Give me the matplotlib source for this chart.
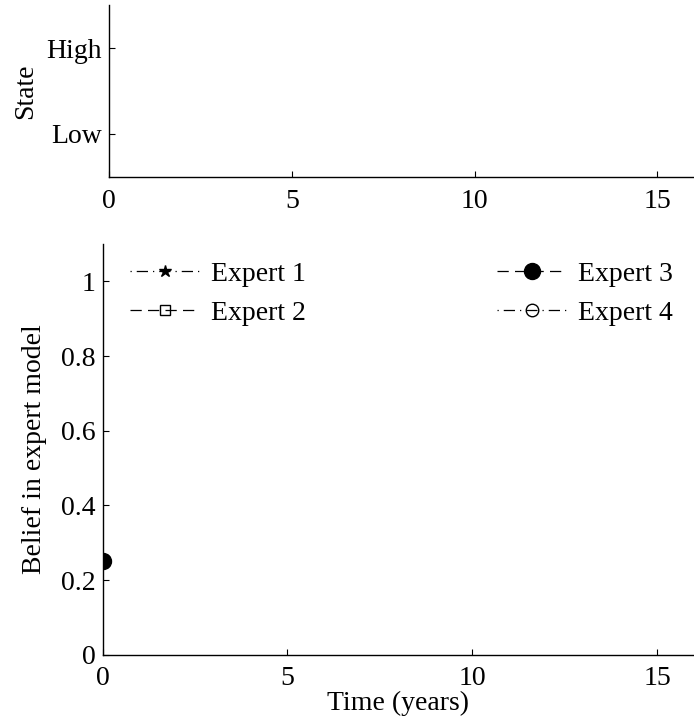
import numpy as np
import matplotlib
matplotlib.use("Agg")
import matplotlib.pyplot as plt

plt.rcParams['font.family'] = ['Liberation Serif', 'DejaVu Serif']
plt.rcParams['font.size'] = 20
plt.rcParams['xtick.direction'] = 'in'
plt.rcParams['ytick.direction'] = 'in'
plt.rcParams['xtick.major.size'] = 4.5
plt.rcParams['ytick.major.size'] = 4.5

# data (only the starting beliefs are visible)
experts = ["Expert 1", "Expert 2", "Expert 3", "Expert 4"]
time = [0.0]
belief1 = [0.25]
belief2 = [0.25]
belief3 = [0.25]
belief4 = [0.25]
state_ticks = [0, 1]
state_labels = ["Low", "High"]
time_ticks = [0, 5, 10, 15]
belief_ticks = [0, 0.2, 0.4, 0.6, 0.8, 1]

dashdot = (0, (1, 4, 9, 4))
dashed = (0, (9, 5))

fig = plt.figure(figsize=(6.94, 7.22), dpi=100)

# top panel: state
ax1 = fig.add_axes([0.157, 0.755, 0.843, 0.238])
ax1.set_xlim(0, 16)
ax1.set_ylim(-0.5, 1.5)
ax1.set_yticks(state_ticks)
ax1.set_yticklabels(state_labels)
ax1.set_xticks(time_ticks)
ax1.set_ylabel("State", labelpad=6)
ax1.spines['top'].set_visible(False)
ax1.spines['right'].set_visible(False)
ax1.tick_params(axis='y', pad=5)
ax1.tick_params(axis='x', pad=9)

# bottom panel: beliefs
ax2 = fig.add_axes([0.148, 0.093, 0.852, 0.569])
ax2.plot(time, belief1, ls=dashdot, color='k', lw=0.9, marker='*', ms=9, label=experts[0])
ax2.plot(time, belief2, ls=dashed, color='k', lw=0.9, marker='s', ms=7, mfc='none', label=experts[1])
ax2.plot(time, belief3, ls=dashed, color='k', lw=0.9, marker='o', ms=11.5, label=experts[2])
ax2.plot(time, belief4, ls=dashdot, color='k', lw=0.9, marker='o', ms=9, mfc='none', label=experts[3])
ax2.set_xlim(0, 16)
ax2.set_ylim(0, 1.1)
ax2.set_xticks(time_ticks)
ax2.set_yticks(belief_ticks)
ax2.set_yticklabels(["0", "0.2", "0.4", "0.6", "0.8", "1"])
ax2.set_xlabel("Time (years)", labelpad=0)
ax2.set_ylabel("Belief in expert model", labelpad=10)
ax2.spines['top'].set_visible(False)
ax2.spines['right'].set_visible(False)
ax2.tick_params(axis='y', pad=5)
ax2.tick_params(axis='x', pad=8)
for a in (ax1, ax2):
    for s in a.spines.values():
        s.set_linewidth(1.0)
ax2.legend(loc='upper left', bbox_to_anchor=(0.028, 0.985), ncol=2, frameon=False,
           handlelength=2.5, handletextpad=0.4, columnspacing=6.9,
           labelspacing=0.5, borderaxespad=0)

fig.savefig("out.png", dpi=100)
